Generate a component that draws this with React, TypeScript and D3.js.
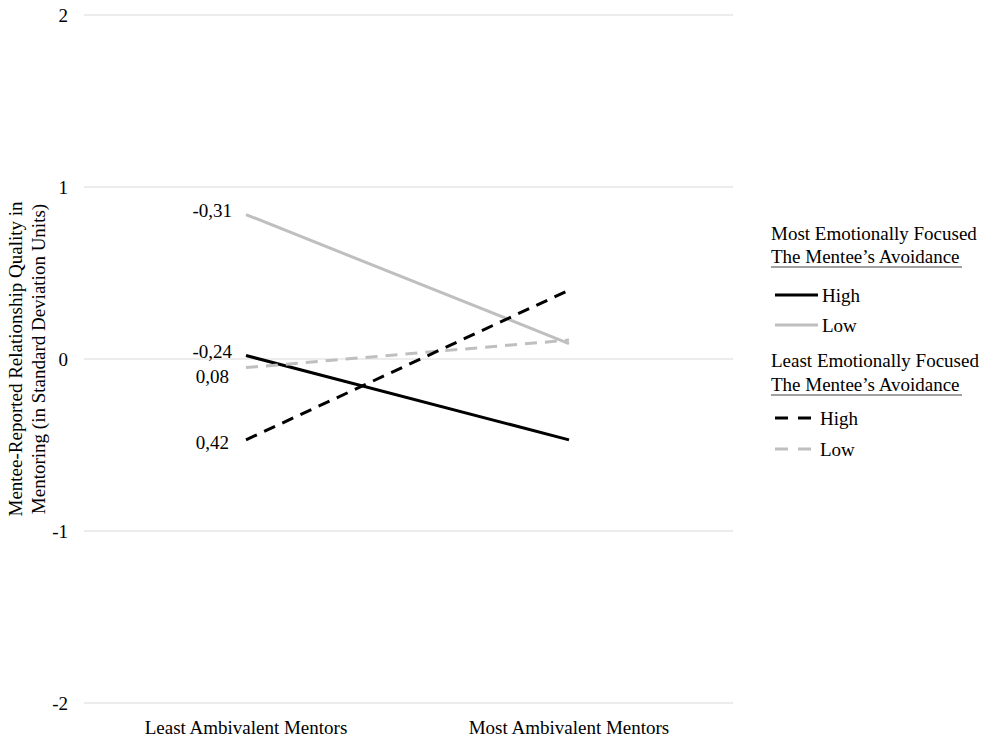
import React from "react";
import * as d3 from "d3";

const categories = ["Least Ambivalent Mentors", "Most Ambivalent Mentors"];
const yTicks = [-2, -1, 0, 1, 2];
const mostHigh = [0.02, -0.47];
const mostLow = [0.84, 0.09];
const leastHigh = [-0.47, 0.4];
const leastLow = [-0.05, 0.11];
const pointLabels = [
  { text: "-0,31", value: 0.84, dy: -4, dx: 0 },
  { text: "-0,24", value: 0.02, dy: -4, dx: 0 },
  { text: "0,08", value: -0.05, dy: 9, dx: -3 },
  { text: "0,42", value: -0.47, dy: 3, dx: -3 },
];

const GRAY = "#bfbfbf";
const FONT = "'Liberation Serif', 'Times New Roman', serif";
const FS = 19;

export default function App() {
  const W = 988, H = 743;
  const y = d3.scaleLinear().domain([-2, 2]).range([703, 15]);
  const x = d3.scalePoint<string>().domain(categories).range([246, 569]);
  const line = d3
    .line<number>()
    .x((_, i) => x(categories[i]) as number)
    .y((d) => y(d));

  const series = [
    { vals: mostLow, color: GRAY, dash: undefined },
    { vals: mostHigh, color: "#000", dash: undefined },
    { vals: leastLow, color: GRAY, dash: "12,8" },
    { vals: leastHigh, color: "#000", dash: "12,8" },
  ];

  const legendItems = [
    { y: 295, color: "#000", dash: undefined, label: "High" },
    { y: 325, color: GRAY, dash: undefined, label: "Low" },
    { y: 418, color: "#000", dash: "13,10", label: "High" },
    { y: 449, color: GRAY, dash: "13,10", label: "Low" },
  ];

  return (
    <svg
      width={W}
      height={H}
      style={{ position: "absolute", left: 0, top: 0, background: "#fff" }}
      fontFamily={FONT}
    >
      {yTicks.map((t) => (
        <g key={t}>
          <line x1={84} x2={733} y1={y(t)} y2={y(t)} stroke="#d9d9d9" strokeWidth={1} />
          <text x={68} y={y(t)} dy="0.35em" textAnchor="end" fontSize={FS} fill="#000">
            {t}
          </text>
        </g>
      ))}
      <g transform={`translate(0,${y(0)}) rotate(-90)`}>
        <text textAnchor="middle" fontSize={FS} y={22}>
          Mentee-Reported Relationship Quality in
        </text>
        <text textAnchor="middle" fontSize={FS} y={45}>
          Mentoring (in Standard Deviation Units)
        </text>
      </g>
      {categories.map((c) => (
        <text key={c} x={x(c)} y={734} textAnchor="middle" fontSize={FS}>
          {c}
        </text>
      ))}
      {series.map((s, i) => (
        <path
          key={i}
          d={line(s.vals) || ""}
          fill="none"
          stroke={s.color}
          strokeWidth={3}
          strokeDasharray={s.dash}
        />
      ))}
      {pointLabels.map((p, i) => (
        <text
          key={i}
          x={232 + p.dx}
          y={y(p.value) + p.dy}
          dy="0.35em"
          textAnchor="end"
          fontSize={FS}
        >
          {p.text}
        </text>
      ))}
      <g fontSize={FS}>
        <text x={771} y={240}>Most Emotionally Focused</text>
        <text x={771} y={263}>The Mentee’s Avoidance</text>
        <line x1={771} x2={962} y1={267} y2={267} stroke="#808080" strokeWidth={1.5} />
        <text x={771} y={367}>Least Emotionally Focused</text>
        <text x={771} y={391}>The Mentee’s Avoidance</text>
        <line x1={771} x2={962} y1={395} y2={395} stroke="#808080" strokeWidth={1.5} />
        {legendItems.map((l, i) => (
          <g key={i}>
            <line
              x1={775}
              x2={l.dash ? 812 : 818}
              y1={l.y}
              y2={l.y}
              stroke={l.color}
              strokeWidth={3}
              strokeDasharray={l.dash}
            />
            <text x={l.dash ? 820 : 822} y={l.y} dy="0.35em">
              {l.label}
            </text>
          </g>
        ))}
      </g>
    </svg>
  );
}
